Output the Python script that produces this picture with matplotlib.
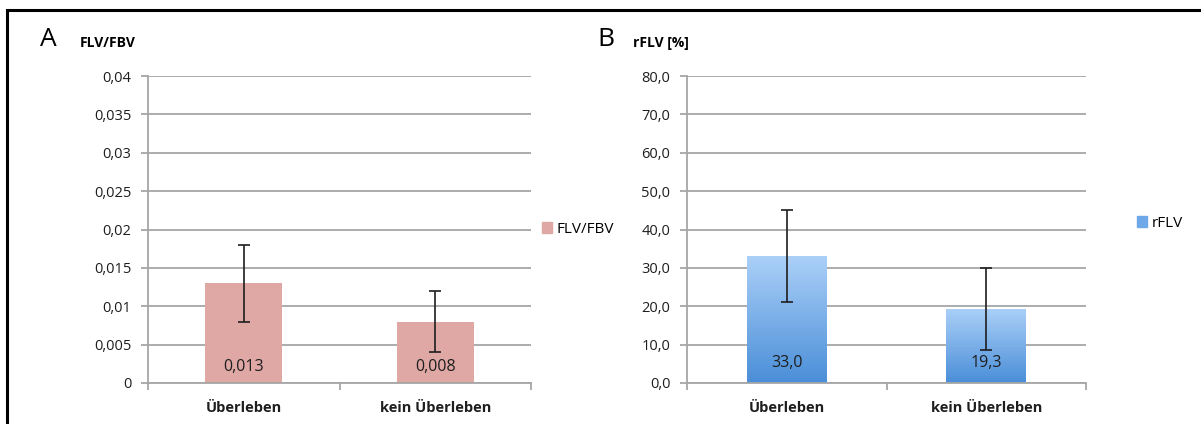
import matplotlib
matplotlib.use("Agg")
import matplotlib.pyplot as plt
import matplotlib.patches as mpatches
from matplotlib.colors import LinearSegmentedColormap
from matplotlib.ticker import FuncFormatter, FixedLocator
import numpy as np

plt.rcParams["font.family"] = ["Open Sans", "DejaVu Sans"]

categories = ["Überleben", "kein Überleben"]
flv_fbv = [0.013, 0.008]
flv_fbv_err = [0.005, 0.004]
flv_fbv_labels = ["0,013", "0,008"]
rflv = [33.0, 19.3]
rflv_err = [12.0, 10.6]
rflv_labels = ["33,0", "19,3"]

GRID = "#a6a6a6"
RED = "#dfa8a5"
BLUE_TOP = "#abd0f8"
BLUE_BOT = "#4a8ed8"
TXT = "#1e1e1e"

fig = plt.figure(figsize=(12.01, 4.24), dpi=100)

# frame around the whole figure (only top/left visible in the original)
fig.add_artist(mpatches.Rectangle((7 / 1201, -0.2), 1.2, 1.2 - 10 / 424,
                                  transform=fig.transFigure, fill=False,
                                  ec="black", lw=2.2))

ax_a = fig.add_axes([148 / 1201, 1 - 383 / 424, 383 / 1201, 307 / 424])
ax_b = fig.add_axes([687 / 1201, 1 - 383 / 424, 399 / 1201, 307 / 424])


def style_axes(ax, ymax, step, fmt):
    ax.set_xlim(-0.5, 1.5)
    ax.set_ylim(0, ymax)
    ax.set_yticks(np.arange(0, ymax + step / 2, step))
    ax.yaxis.set_major_formatter(FuncFormatter(fmt))
    ax.grid(axis="y", color=GRID, lw=1.3)
    ax.set_axisbelow(True)
    for s in ("top", "right"):
        ax.spines[s].set_visible(False)
    for s in ("left", "bottom"):
        ax.spines[s].set_color(GRID)
        ax.spines[s].set_linewidth(1.3)
    ax.tick_params(axis="y", colors=GRID, labelcolor=TXT, length=5,
                   width=1.3, labelsize=10.5, pad=7)
    ax.set_xticks([0, 1])
    ax.set_xticklabels(categories, fontweight="bold", fontsize=10.5)
    ax.tick_params(axis="x", length=0, pad=13, labelcolor=TXT)
    ax.xaxis.set_minor_locator(FixedLocator([-0.5, 0.5, 1.5]))
    ax.tick_params(axis="x", which="minor", length=5, width=1.3, colors=GRID)


style_axes(ax_a, 0.04, 0.005, lambda v, p: f"{v:g}".replace(".", ","))
style_axes(ax_b, 80, 10, lambda v, p: f"{v:.1f}".replace(".", ","))

x = np.arange(len(categories))

# panel A
ax_a.bar(x, flv_fbv, width=0.4, color=RED, label="FLV/FBV", zorder=2)
ax_a.errorbar(x, flv_fbv, yerr=flv_fbv_err, fmt="none", ecolor=TXT,
              elinewidth=1.2, capsize=4, capthick=1.2, zorder=3)
for xi, lab in zip(x, flv_fbv_labels):
    ax_a.text(xi, 0.052, lab, transform=ax_a.get_xaxis_transform(),
              ha="center", va="center", fontsize=11.5, color=TXT, zorder=4)

# panel B with vertical gradient bars
cmap = LinearSegmentedColormap.from_list("blue", [BLUE_BOT, BLUE_TOP])
grad = np.linspace(0, 1, 256).reshape(-1, 1)
bars_b = ax_b.bar(x, rflv, width=0.4, color="none", label="rFLV", zorder=2)
for bar in bars_b:
    x0, w, h = bar.get_x(), bar.get_width(), bar.get_height()
    im = ax_b.imshow(grad, extent=[x0, x0 + w, 0, h], origin="lower",
                     aspect="auto", cmap=cmap, zorder=2)
    im.set_clip_path(bar)
ax_b.set_xlim(-0.5, 1.5)
ax_b.set_ylim(0, 80)
ax_b.errorbar(x, rflv, yerr=rflv_err, fmt="none", ecolor=TXT,
              elinewidth=1.2, capsize=4, capthick=1.2, zorder=3)
for xi, lab in zip(x, rflv_labels):
    ax_b.text(xi, 0.066, lab, transform=ax_b.get_xaxis_transform(),
              ha="center", va="center", fontsize=11.5, color=TXT, zorder=4)

# legends
ax_a.legend(handles=[mpatches.Patch(color=RED, label="FLV/FBV")],
            loc="center left", bbox_to_anchor=(1.012, 0.5), frameon=False,
            handlelength=0.7, handleheight=0.7, handletextpad=0.3,
            fontsize=11, borderaxespad=0)
ax_b.legend(handles=[mpatches.Patch(color="#6fa8e8", label="rFLV")],
            loc="center left", bbox_to_anchor=(1.112, 0.52), frameon=False,
            handlelength=0.7, handleheight=0.7, handletextpad=0.3,
            fontsize=11, borderaxespad=0)

# panel letters and axis titles
fig.text(40 / 1201, 1 - 39 / 424, "A", fontsize=19, va="center", ha="left")
fig.text(80 / 1201, 1 - 43 / 424, "FLV/FBV", fontsize=10, fontweight="bold",
         va="center", ha="left")
fig.text(597 / 1201, 1 - 39 / 424, "B", fontsize=19, va="center", ha="left")
fig.text(633 / 1201, 1 - 43 / 424, "rFLV [%]", fontsize=10, fontweight="bold",
         va="center", ha="left")

fig.savefig("out.png", dpi=100)
